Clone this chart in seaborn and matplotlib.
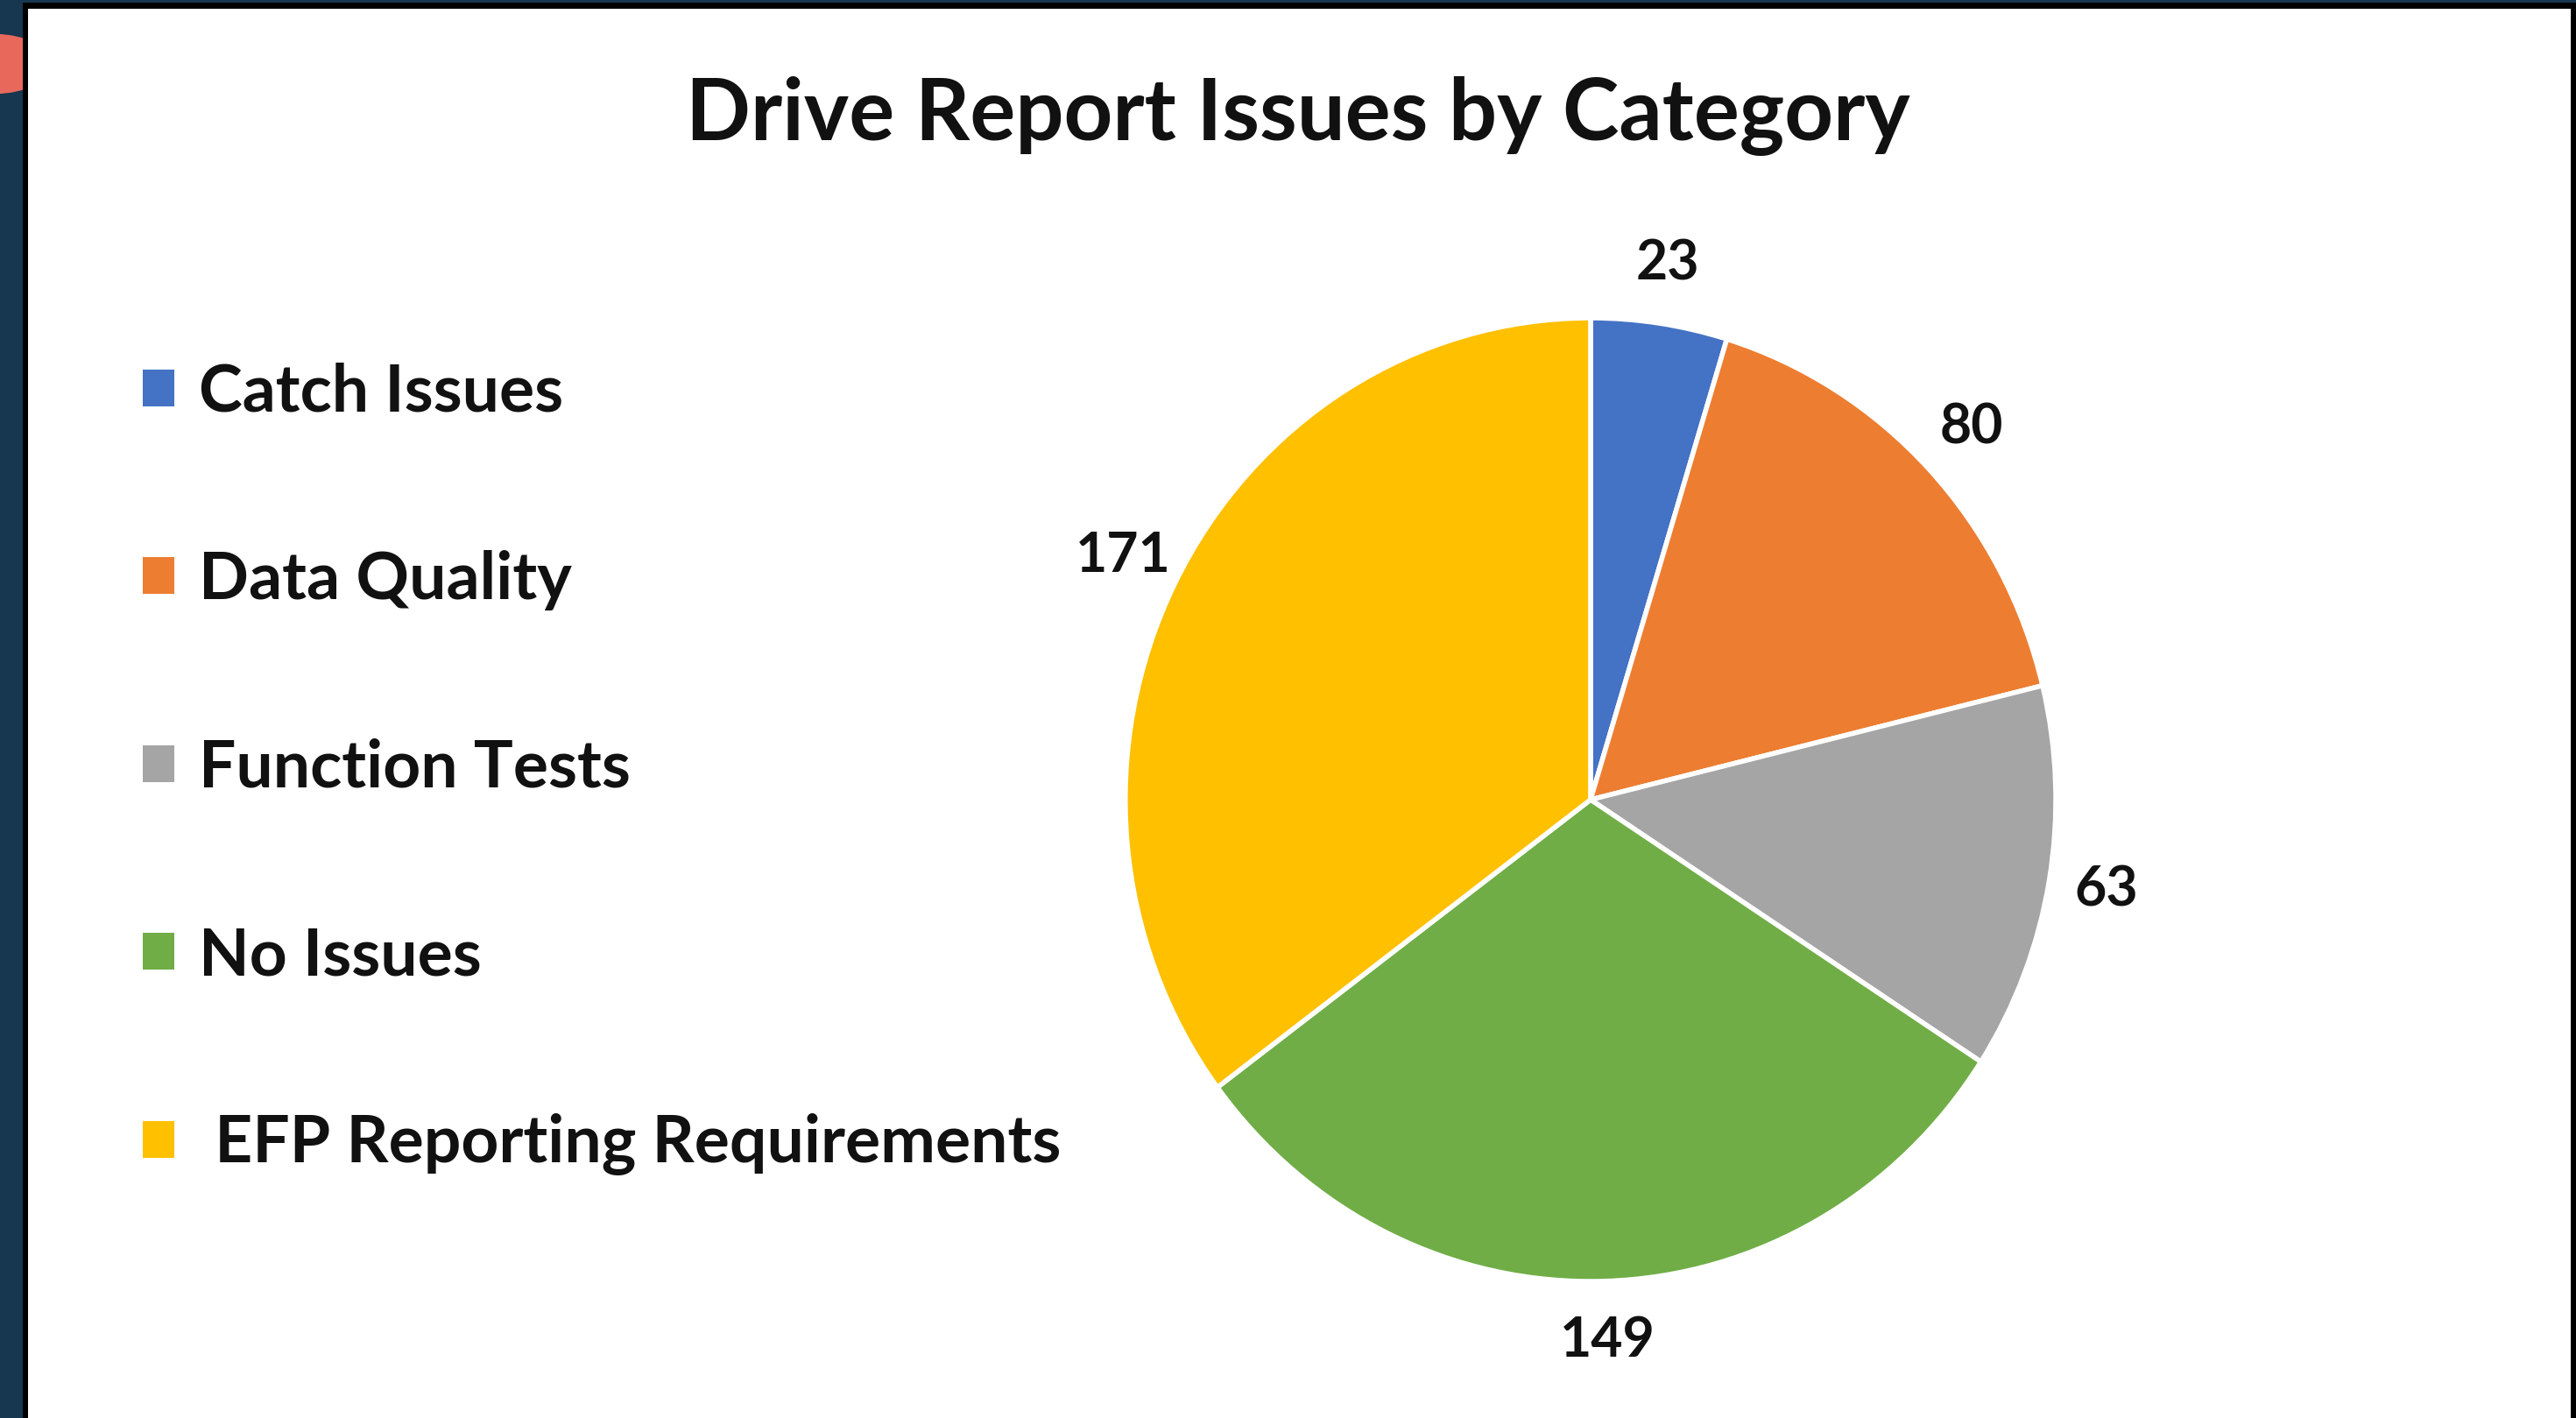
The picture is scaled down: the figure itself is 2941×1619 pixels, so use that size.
"""
Drive report issues by category - pie chart with legend on the left.
"""
import matplotlib
matplotlib.use("Agg")
import matplotlib.pyplot as plt
import matplotlib.patches as mpatches
import seaborn as sns
import numpy as np

# data
categories = ["Catch Issues", "Data Quality", "Function Tests", "No Issues", " EFP Reporting Requirements"]
counts = [23, 80, 63, 149, 171]
colors = ["#4472C4", "#ED7D31", "#A5A5A5", "#70AD47", "#FFC000"]
title = "Drive Report Issues by Category"

sns.set_theme(style="white")
plt.rcParams["font.family"] = ["Lato", "DejaVu Sans"]

W, H = 2941, 1619
fig = plt.figure(figsize=(W / 100, H / 100), dpi=100, facecolor="#17364F")

# screenshot frame: red badge, black border, white slide
fig.patches.append(mpatches.Circle((-5 / W, 1 - 73 / H), 62 / W, transform=fig.transFigure,
                                   facecolor="#E8685C", edgecolor="none", zorder=-3))
fig.patches.append(mpatches.Rectangle((26 / W, 0), 1 - 26 / W, 1 - 3 / H, transform=fig.transFigure,
                                      facecolor="black", edgecolor="none", zorder=-2))
fig.patches.append(mpatches.Rectangle((32 / W, 0), (2935 - 32) / W, 1 - 10 / H, transform=fig.transFigure,
                                      facecolor="white", edgecolor="none", zorder=-1))

ax = fig.add_axes([0.3917, 0.0114, 0.4515, 0.8493])
ax.set_facecolor("none")
wedges, _ = ax.pie(counts, colors=sns.color_palette(colors), startangle=90, counterclock=False,
                   wedgeprops=dict(edgecolor="white", linewidth=4))
ax.set_xlim(-1.25, 1.25)
ax.set_ylim(-1.25, 1.25)
ax.set_aspect("auto")

# value labels outside the slices
total = sum(counts)
start = 90.0
for val in counts:
    mid = start - val / total * 360 / 2
    start -= val / total * 360
    r = 1.125
    ax.text(r * np.cos(np.radians(mid)), r * np.sin(np.radians(mid)), str(val),
            ha="center", va="center", fontsize=45, fontweight="bold", color="#111111")

fig.text(1482 / W, 1 - 133 / H, title, ha="center", va="center",
         fontsize=70, fontweight="bold", color="#111111")

handles = [mpatches.Patch(facecolor=c, edgecolor="none") for c in colors]
leg = fig.legend(handles, categories, loc="center left", bbox_to_anchor=(163 / W, 1 - 878 / H),
                 frameon=False, fontsize=54, handlelength=0.48, handleheight=0.48,
                 handletextpad=0.37, labelspacing=1.94, borderpad=0, borderaxespad=0)
for t in leg.get_texts():
    t.set_fontweight("bold")
    t.set_color("#111111")

fig.savefig("out.png", dpi=100, facecolor=fig.get_facecolor())
